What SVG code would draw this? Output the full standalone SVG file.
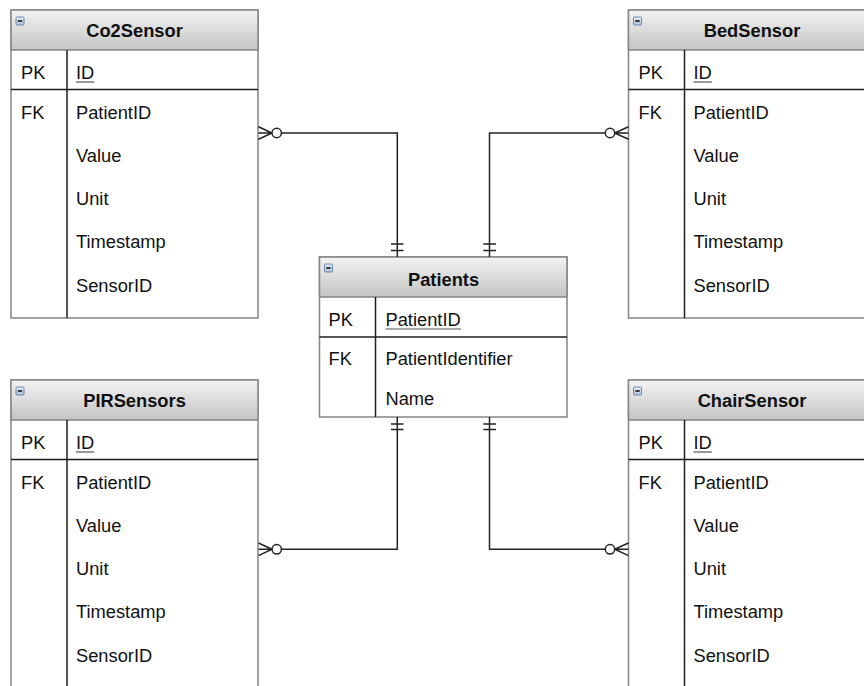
<svg xmlns="http://www.w3.org/2000/svg" width="864" height="686" viewBox="0 0 864 686">
  <style>
    .box { fill: #ffffff; stroke: #858585; stroke-width: 1.5; }
    .hdr { fill: url(#hdrGrad); stroke: #858585; stroke-width: 1.5; }
    .div { stroke: #1e1e1e; stroke-width: 1.5; fill: none; }
    .ico { fill: url(#icoGrad); stroke: #6f8aae; stroke-width: 1; }
    .icoMinus { stroke: #2a2a2a; stroke-width: 1.8; }
    .title { font-family: "Liberation Sans", Arial, sans-serif; font-size: 18.3px; font-weight: bold; fill: #111; text-anchor: middle; }
    .txt { font-family: "Liberation Sans", Arial, sans-serif; font-size: 18.3px; fill: #111; }
    .ul { stroke: #555; stroke-width: 1.2; }
    .conn { stroke: #222; stroke-width: 1.5; fill: none; }
    .circ { stroke: #222; stroke-width: 1.5; fill: #ffffff; }
  </style>
  <defs>
    <linearGradient id="hdrGrad" x1="0" y1="0" x2="0" y2="1">
      <stop offset="0" stop-color="#f3f3f3"/>
      <stop offset="1" stop-color="#c4c4c4"/>
    </linearGradient>
    <linearGradient id="icoGrad" x1="0" y1="0" x2="0" y2="1">
      <stop offset="0" stop-color="#e6eef7"/>
      <stop offset="1" stop-color="#a8bfd9"/>
    </linearGradient>
  </defs>
  <rect width="864" height="686" fill="#ffffff"/>

  <g id="Co2Sensor" transform="translate(11,10)">
    <rect class="box" x="0" y="0" width="247" height="308"/>
    <rect class="hdr" x="0" y="0" width="247" height="40"/>
    <line class="div" x1="56" y1="40" x2="56" y2="308"/>
    <line class="div" x1="0" y1="79.5" x2="247" y2="79.5"/>
    <rect class="ico" x="5" y="7" width="8" height="8" rx="1"/>
    <line class="icoMinus" x1="6.8" y1="11" x2="11.2" y2="11"/>
    <text class="title" x="123.5" y="27">Co2Sensor</text>
    <text class="txt" x="10" y="69">PK</text>
    <text class="txt" x="65" y="69">ID</text>
    <line class="ul" x1="65" y1="72" x2="83.3" y2="72"/>
    <text class="txt" x="10" y="109">FK</text>
    <text class="txt" x="65" y="109">PatientID</text>
    <text class="txt" x="65" y="152">Value</text>
    <text class="txt" x="65" y="195">Unit</text>
    <text class="txt" x="65" y="238">Timestamp</text>
    <text class="txt" x="65" y="281.5">SensorID</text>
  </g>

  <g id="BedSensor" transform="translate(628.5,10)">
    <rect class="box" x="0" y="0" width="247" height="308"/>
    <rect class="hdr" x="0" y="0" width="247" height="40"/>
    <line class="div" x1="56" y1="40" x2="56" y2="308"/>
    <line class="div" x1="0" y1="79.5" x2="247" y2="79.5"/>
    <rect class="ico" x="5" y="7" width="8" height="8" rx="1"/>
    <line class="icoMinus" x1="6.8" y1="11" x2="11.2" y2="11"/>
    <text class="title" x="123.5" y="27">BedSensor</text>
    <text class="txt" x="10" y="69">PK</text>
    <text class="txt" x="65" y="69">ID</text>
    <line class="ul" x1="65" y1="72" x2="83.3" y2="72"/>
    <text class="txt" x="10" y="109">FK</text>
    <text class="txt" x="65" y="109">PatientID</text>
    <text class="txt" x="65" y="152">Value</text>
    <text class="txt" x="65" y="195">Unit</text>
    <text class="txt" x="65" y="238">Timestamp</text>
    <text class="txt" x="65" y="281.5">SensorID</text>
  </g>

  <g id="PIRSensors" transform="translate(11,380)">
    <rect class="box" x="0" y="0" width="247" height="308"/>
    <rect class="hdr" x="0" y="0" width="247" height="40"/>
    <line class="div" x1="56" y1="40" x2="56" y2="308"/>
    <line class="div" x1="0" y1="79.5" x2="247" y2="79.5"/>
    <rect class="ico" x="5" y="7" width="8" height="8" rx="1"/>
    <line class="icoMinus" x1="6.8" y1="11" x2="11.2" y2="11"/>
    <text class="title" x="123.5" y="27">PIRSensors</text>
    <text class="txt" x="10" y="69">PK</text>
    <text class="txt" x="65" y="69">ID</text>
    <line class="ul" x1="65" y1="72" x2="83.3" y2="72"/>
    <text class="txt" x="10" y="109">FK</text>
    <text class="txt" x="65" y="109">PatientID</text>
    <text class="txt" x="65" y="152">Value</text>
    <text class="txt" x="65" y="195">Unit</text>
    <text class="txt" x="65" y="238">Timestamp</text>
    <text class="txt" x="65" y="281.5">SensorID</text>
  </g>

  <g id="ChairSensor" transform="translate(628.5,380)">
    <rect class="box" x="0" y="0" width="247" height="308"/>
    <rect class="hdr" x="0" y="0" width="247" height="40"/>
    <line class="div" x1="56" y1="40" x2="56" y2="308"/>
    <line class="div" x1="0" y1="79.5" x2="247" y2="79.5"/>
    <rect class="ico" x="5" y="7" width="8" height="8" rx="1"/>
    <line class="icoMinus" x1="6.8" y1="11" x2="11.2" y2="11"/>
    <text class="title" x="123.5" y="27">ChairSensor</text>
    <text class="txt" x="10" y="69">PK</text>
    <text class="txt" x="65" y="69">ID</text>
    <line class="ul" x1="65" y1="72" x2="83.3" y2="72"/>
    <text class="txt" x="10" y="109">FK</text>
    <text class="txt" x="65" y="109">PatientID</text>
    <text class="txt" x="65" y="152">Value</text>
    <text class="txt" x="65" y="195">Unit</text>
    <text class="txt" x="65" y="238">Timestamp</text>
    <text class="txt" x="65" y="281.5">SensorID</text>
  </g>

  <g id="Patients" transform="translate(319.5,257)">
    <rect class="box" x="0" y="0" width="247.5" height="160"/>
    <rect class="hdr" x="0" y="0" width="247.5" height="40"/>
    <line class="div" x1="56" y1="40" x2="56" y2="160"/>
    <line class="div" x1="0" y1="80" x2="247.5" y2="80"/>
    <rect class="ico" x="5" y="7" width="8" height="8" rx="1"/>
    <line class="icoMinus" x1="6.8" y1="11" x2="11.2" y2="11"/>
    <text class="title" x="124" y="29">Patients</text>
    <text class="txt" x="9" y="69">PK</text>
    <text class="txt" x="66" y="69">PatientID</text>
    <line class="ul" x1="66" y1="72" x2="141.3" y2="72"/>
    <text class="txt" x="9" y="108">FK</text>
    <text class="txt" x="66" y="108">PatientIdentifier</text>
    <text class="txt" x="66" y="148">Name</text>
  </g>

  <g id="connectors">
    <!-- Co2Sensor - Patients -->
    <path class="conn" d="M 281.4 133 H 397.3 V 257"/>
    <path class="conn" d="M 258.5 126.7 L 272 133 L 258.5 139.3 M 258.5 133 H 272"/>
    <circle class="circ" cx="276.7" cy="133" r="4.7"/>
    <path class="conn" d="M 391 244 H 403.5 M 391 250.5 H 403.5"/>

    <!-- BedSensor - Patients -->
    <path class="conn" d="M 605.3 133 H 489.5 V 257"/>
    <path class="conn" d="M 628.5 126.7 L 614.7 133 L 628.5 139.3 M 628.5 133 H 614.7"/>
    <circle class="circ" cx="610" cy="133" r="4.7"/>
    <path class="conn" d="M 483.3 244 H 496 M 483.3 250.5 H 496"/>

    <!-- Patients - PIRSensors -->
    <path class="conn" d="M 397.3 417 V 549.3 H 281.4"/>
    <path class="conn" d="M 258.5 543 L 272 549.3 L 258.5 555.6 M 258.5 549.3 H 272"/>
    <circle class="circ" cx="276.7" cy="549.3" r="4.7"/>
    <path class="conn" d="M 391 424 H 403.5 M 391 429.5 H 403.5"/>

    <!-- Patients - ChairSensor -->
    <path class="conn" d="M 489.5 417 V 549.3 H 605.3"/>
    <path class="conn" d="M 628.5 543 L 614.7 549.3 L 628.5 555.6 M 628.5 549.3 H 614.7"/>
    <circle class="circ" cx="610" cy="549.3" r="4.7"/>
    <path class="conn" d="M 483.3 424 H 496 M 483.3 429.5 H 496"/>
  </g>
</svg>
